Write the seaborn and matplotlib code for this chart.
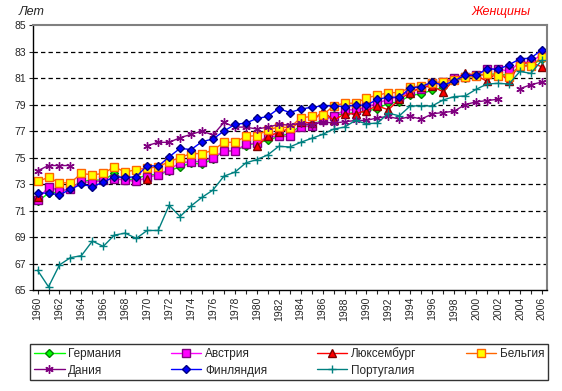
import seaborn as sns
import matplotlib.pyplot as plt
import matplotlib.ticker as mticker
import numpy as np

sns.set_style("white")
plt.rcParams['font.family'] = ['Liberation Sans', 'DejaVu Sans']

years = list(range(1960, 2007))

# life expectancy of women, years (None = no data)
germany = [71.7, 72.3, 72.4, 72.7, 73.2, 73.3, 73.3, 73.8, 73.3, 73.4,
           73.7, 73.7, 74.0, 74.3, 74.6, 74.5, 74.9, 75.5, 75.5, 75.9,
           76.1, 76.3, 76.6, 76.8, 77.4, 77.5, 77.8, 78.2, 78.3, 78.4,
           78.5, 78.7, 79.1, 79.2, 79.7, 79.8, 80.1, 80.3, 80.8, 81.0,
           81.2, 81.3, 81.3, 81.2, 81.9, 82.0, 82.4]
austria = [71.8, 72.8, 72.5, 72.6, 73.2, 73.1, 73.3, 73.4, 73.3, 73.2,
           73.5, 73.7, 74.1, 74.6, 74.7, 74.7, 75.0, 75.5, 75.5, 76.0,
           76.1, 76.6, 76.6, 76.6, 77.3, 77.4, 77.8, 78.1, 78.6, 78.6,
           78.8, 79.1, 79.4, 79.6, 80.0, 80.2, 80.6, 80.7, 81.0, 81.1,
           81.2, 81.7, 81.7, 81.5, 82.2, 82.2, 82.8]
luxembourg = [72.0, None, None, None, None, None, None, None, None, None,
              73.4, None, None, None, None, None, None, None, None, None,
              75.85, 76.6, 76.9, 77.2, 77.7, 77.6, 78.55, 77.8, 78.3, 78.3,
              78.55, 78.9, 78.6, 79.4, 79.9, 80.3, 80.4, 79.95, 80.9, 81.35,
              81.2, 80.75, 81.5, 80.75, 82.1, 82.15, 81.85]
belgium = [73.2, 73.5, 73.1, 73.1, 73.8, 73.7, 73.8, 74.3, 73.9, 74.1,
           74.2, 74.3, 74.7, 75.0, 75.3, 75.3, 75.55, 76.15, 76.15, 76.6,
           76.65, 77.1, 77.3, 77.25, 78.0, 78.1, 78.2, 78.9, 79.1, 79.1,
           79.5, 79.7, 79.9, 79.9, 80.3, 80.4, 80.65, 80.7, 80.85, 81.1,
           81.15, 81.3, 81.15, 81.1, 81.9, 81.9, 82.6]
denmark = [74.0, 74.4, 74.4, 74.4, None, None, None, None, None, None,
           75.9, 76.15, 76.15, 76.5, 76.75, 77.0, 76.7, 77.65, 77.3, 77.3,
           77.15, 77.3, 77.5, 77.45, 77.6, 77.45, 77.7, 77.6, 77.7, 77.8,
           77.8, 78.0, 78.1, 77.9, 78.1, 77.9, 78.3, 78.4, 78.5, 79.0,
           79.2, 79.3, 79.4, None, 80.2, 80.5, 80.7]
finland = [72.35, 72.3, 72.2, 72.6, 73.0, 72.8, 73.15, 73.55, 73.5, 73.55,
           74.4, 74.35, 75.05, 75.7, 75.6, 76.2, 76.4, 77.0, 77.5, 77.6,
           77.95, 78.1, 78.7, 78.4, 78.65, 78.8, 78.9, 78.9, 78.85, 78.95,
           78.95, 79.4, 79.55, 79.55, 80.25, 80.35, 80.7, 80.45, 80.8, 81.2,
           81.2, 81.7, 81.65, 82.0, 82.45, 82.5, 83.15]
portugal = [66.5, 65.25, 66.9, 67.45, 67.6, 68.7, 68.3, 69.15, 69.3, 68.9,
            69.5, 69.5, 71.4, 70.55, 71.35, 72.0, 72.55, 73.6, 73.9, 74.6,
            74.85, 75.2, 75.85, 75.8, 76.15, 76.45, 76.75, 77.15, 77.3, 77.8,
            77.55, 77.6, 78.35, 78.15, 78.9, 78.9, 78.9, 79.35, 79.6, 79.65,
            80.15, 80.55, 80.6, 80.55, 81.5, 81.35, 82.35]

series = [
    ("Германия", germany, dict(color="#00FF00", marker="D", mfc="#00FF00", mec="#008000", ms=4.5)),
    ("Австрия", austria, dict(color="#FF00FF", marker="s", mfc="#FF00FF", mec="#800080", ms=5.5)),
    ("Люксембург", luxembourg, dict(color="#FF0000", marker="^", mfc="#FF0000", mec="#800000", ms=6)),
    ("Бельгия", belgium, dict(color="#FF6600", marker="s", mfc="#FFFF00", mec="#FF6600", ms=5.5)),
    ("Дания", denmark, dict(color="#800080", marker=(6, 2, 0), mfc="#800080", mec="#800080", ms=6)),
    ("Финляндия", finland, dict(color="#0000FF", marker="D", mfc="#0000FF", mec="#000080", ms=4.5)),
    ("Португалия", portugal, dict(color="#008080", marker="+", mfc="#008080", mec="#008080", ms=6)),
]

fig = plt.figure(figsize=(5.62, 3.91), dpi=100)
ax = fig.add_axes([0.059, 0.258, 0.914, 0.678])

handles = []
for name, vals, st in series:
    yrs = np.array(years)
    v = np.array([np.nan if x is None else x for x in vals], dtype=float)
    ok = ~np.isnan(v)
    # split into contiguous runs so gaps are not bridged
    seg_id = np.cumsum(np.r_[1, np.diff(ok.astype(int)) != 0])
    first = True
    for s in np.unique(seg_id[ok]):
        m = (seg_id == s) & ok
        sns.lineplot(x=yrs[m], y=v[m], ax=ax, color=st["color"], linewidth=1.0,
                     marker=st["marker"], markerfacecolor=st["mfc"],
                     markeredgecolor=st["mec"], markersize=st["ms"],
                     markeredgewidth=1.0, legend=False)
        if first:
            handles.append(ax.lines[-1])
            first = False

ax.set_xlim(1959.6, 2006.45)
ax.set_ylim(65, 85)
ax.yaxis.set_major_locator(mticker.FixedLocator(list(range(65, 86, 2))))
ax.xaxis.set_major_locator(mticker.MultipleLocator(2))
ax.xaxis.set_minor_locator(mticker.MultipleLocator(1))
ax.xaxis.set_major_formatter(mticker.FormatStrFormatter("%d"))
ax.tick_params(axis="x", which="both", rotation=90, labelsize=7.5, direction="out",
               length=3, width=0.8, pad=2, bottom=True)
ax.tick_params(axis="y", labelsize=7.5, direction="out", length=3, width=0.8, pad=2, left=True)
ax.set_xlabel("")
ax.set_ylabel("")

for yv in range(67, 85, 2):
    ax.axhline(yv, color="black", linestyle=(0, (3.5, 2.5)), linewidth=0.9, zorder=0)

for side in ["left", "bottom"]:
    ax.spines[side].set_color("black")
    ax.spines[side].set_linewidth(1.0)
for side in ["top", "right"]:
    ax.spines[side].set_color("#808080")
    ax.spines[side].set_linewidth(1.5)

fig.text(0.034, 0.97, "Лет", fontsize=9, style="italic", va="center", ha="left")
fig.text(0.945, 0.97, "Женщины", fontsize=9, style="italic", color="#FF0000",
         va="center", ha="right")

# legend is filled column by column: reorder so rows read as in the original
order = [0, 4, 1, 5, 2, 6, 3]
leg = fig.legend(handles=[handles[i] for i in order],
                 labels=[series[i][0] for i in order], ncol=4,
                 loc="lower left", bbox_to_anchor=(0.054, 0.028, 0.921, 0.095),
                 mode="expand", frameon=True, fancybox=False, fontsize=8.5,
                 handlelength=2.6, handletextpad=0.3, borderaxespad=0,
                 labelspacing=0.35, borderpad=0.3)
leg.get_frame().set_edgecolor("black")
leg.get_frame().set_linewidth(1.0)

plt.savefig("out.png", dpi=100)
plt.close()
